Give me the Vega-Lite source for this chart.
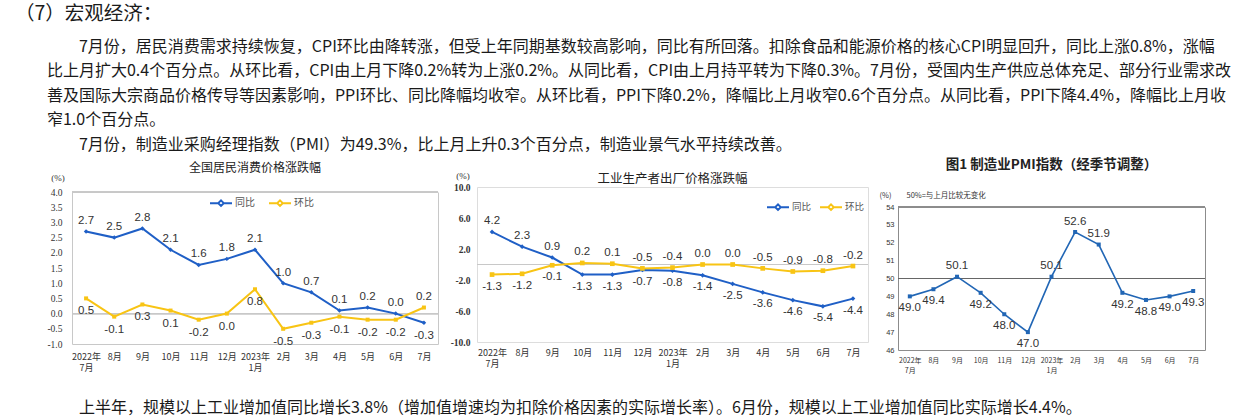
{
  "$schema": "https://vega.github.io/schema/vega-lite/v6.json",
  "background": "white",
  "padding": {"left": 14, "top": 4, "right": 0, "bottom": 0},
  "config": {
    "font": "Noto Sans CJK SC",
    "locale": {"number": {"decimal": ".", "thousands": ",", "grouping": [3], "currency": ["", ""], "minus": "-"}},
    "view": {"stroke": "#c8c8c8"},
    "axis": {"grid": false, "ticks": false, "domain": false, "labelColor": "#333", "titleColor": "#333", "titleFontWeight": "normal", "labelOverlap": false}
  },
  "datasets": {
    "cpi": [
      {"month": "2022年|7月", "同比": 2.7, "环比": 0.5},
      {"month": "8月", "同比": 2.5, "环比": -0.1},
      {"month": "9月", "同比": 2.8, "环比": 0.3},
      {"month": "10月", "同比": 2.1, "环比": 0.1},
      {"month": "11月", "同比": 1.6, "环比": -0.2},
      {"month": "12月", "同比": 1.8, "环比": 0.0},
      {"month": "2023年|1月", "同比": 2.1, "环比": 0.8},
      {"month": "2月", "同比": 1.0, "环比": -0.5},
      {"month": "3月", "同比": 0.7, "环比": -0.3},
      {"month": "4月", "同比": 0.1, "环比": -0.1},
      {"month": "5月", "同比": 0.2, "环比": -0.2},
      {"month": "6月", "同比": 0.0, "环比": -0.2},
      {"month": "7月", "同比": -0.3, "环比": 0.2}
    ],
    "ppi": [
      {"month": "2022年|7月", "同比": 4.2, "环比": -1.3},
      {"month": "8月", "同比": 2.3, "环比": -1.2},
      {"month": "9月", "同比": 0.9, "环比": -0.1},
      {"month": "10月", "同比": -1.3, "环比": 0.2},
      {"month": "11月", "同比": -1.3, "环比": 0.1},
      {"month": "12月", "同比": -0.7, "环比": -0.5},
      {"month": "2023年|1月", "同比": -0.8, "环比": -0.4},
      {"month": "2月", "同比": -1.4, "环比": 0.0},
      {"month": "3月", "同比": -2.5, "环比": 0.0},
      {"month": "4月", "同比": -3.6, "环比": -0.5},
      {"month": "5月", "同比": -4.6, "环比": -0.9},
      {"month": "6月", "同比": -5.4, "环比": -0.8},
      {"month": "7月", "同比": -4.4, "环比": -0.2}
    ],
    "pmi": [
      {"month": "2022年|7月", "PMI": 49.0},
      {"month": "8月", "PMI": 49.4},
      {"month": "9月", "PMI": 50.1},
      {"month": "10月", "PMI": 49.2},
      {"month": "11月", "PMI": 48.0},
      {"month": "12月", "PMI": 47.0},
      {"month": "2023年|1月", "PMI": 50.1},
      {"month": "2月", "PMI": 52.6},
      {"month": "3月", "PMI": 51.9},
      {"month": "4月", "PMI": 49.2},
      {"month": "5月", "PMI": 48.8},
      {"month": "6月", "PMI": 49.0},
      {"month": "7月", "PMI": 49.3}
    ]
  },
  "title": {
    "text": "（7）宏观经济：",
    "subtitle": [
      "⁠　　　　7月份，居民消费需求持续恢复，CPI环比由降转涨，但受上年同期基数较高影响，同比有所回落。扣除食品和能源价格的核心CPI明显回升，同比上涨0.8%，涨幅",
      "⁠　　比上月扩大0.4个百分点。从环比看，CPI由上月下降0.2%转为上涨0.2%。从同比看，CPI由上月持平转为下降0.3%。7月份，受国内生产供应总体充足、部分行业需求改",
      "⁠　　善及国际大宗商品价格传导等因素影响，PPI环比、同比降幅均收窄。从环比看，PPI下降0.2%，降幅比上月收窄0.6个百分点。从同比看，PPI下降4.4%，降幅比上月收",
      "⁠　　窄1.0个百分点。",
      "⁠　　　　7月份，制造业采购经理指数（PMI）为49.3%，比上月上升0.3个百分点，制造业景气水平持续改善。"
    ],
    "anchor": "start",
    "dx": -32,
    "font": "Noto Sans CJK SC",
    "fontSize": 19.5,
    "fontWeight": "normal",
    "color": "#1a1a1a",
    "subtitleFont": "Noto Sans CJK SC",
    "subtitleFontSize": 16,
    "subtitleLineHeight": 24.5,
    "subtitleColor": "#1a1a1a",
    "subtitlePadding": 14,
    "offset": 4
  },
  "vconcat": [
    {
      "spacing": 10,
      "resolve": {"scale": {"color": "independent"}},
      "title": {
        "text": "⁠　　上半年，规模以上工业增加值同比增长3.8%（增加值增速均为扣除价格因素的实际增长率）。6月份，规模以上工业增加值同比实际增长4.4%。",
        "orient": "bottom",
        "anchor": "start",
        "font": "Noto Sans CJK SC",
        "fontSize": 16,
        "fontWeight": "normal",
        "color": "#1a1a1a",
        "offset": 27
      },
      "hconcat": [
        {
          "width": 366,
          "height": 157,
          "data": {"name": "cpi"},
          "view": {"stroke": null},
          "title": {"text": "全国居民消费价格涨跌幅", "fontSize": 12, "fontWeight": "normal", "color": "#222", "offset": -2},
          "resolve": {"axis": {"y": "independent"}},
          "layer": [
            {
              "mark": {"type": "rule", "color": "#c8c8c8", "strokeWidth": 1},
              "encoding": {"y": {"datum": 0, "type": "quantitative", "scale": {"domain": [-1, 4], "range": [157, 5]}, "axis": null}}
            },
            {
              "mark": {"type": "rule", "color": "#c8c8c8", "strokeWidth": 1},
              "encoding": {"y": {"datum": 4, "type": "quantitative", "scale": {"domain": [-1, 4], "range": [157, 5]},
                "axis": {"orient": "right", "labels": false, "ticks": false, "title": null, "domain": true, "domainColor": "#c8c8c8"}}}
            },
            {
              "transform": [{"fold": ["同比", "环比"], "as": ["series", "value"]}],
              "mark": {"type": "line", "strokeWidth": 2},
              "encoding": {
                "x": {"field": "month", "type": "ordinal", "sort": null, "scale": {"type": "point", "padding": 0.5},
                  "axis": {"title": null, "labelAngle": 0, "labelOverlap": false, "labelExpr": "split(datum.label, '|')", "labelFontSize": 9, "labelLineHeight": 11, "labelPadding": 8, "labelColor": "#333", "domain": true, "domainColor": "#c8c8c8"}},
                "y": {"field": "value", "type": "quantitative", "scale": {"domain": [-1, 4], "range": [157, 5]},
                  "axis": {"title": "(%)", "titleAngle": 0, "titleAlign": "center", "titleBaseline": "middle", "titleX": -14.5, "titleY": -10, "titleFont": "Liberation Serif", "titleFontSize": 9, "values": [-1, -0.5, 0, 0.5, 1, 1.5, 2, 2.5, 3, 3.5, 4], "format": ".1f", "labelOverlap": false, "labelFont": "Liberation Serif", "labelFontSize": 9.5, "labelPadding": 10, "domain": true, "domainColor": "#c8c8c8"}},
                "color": {"field": "series", "type": "nominal", "scale": {"domain": ["同比", "环比"], "range": ["#1f5fc6", "#f8c414"]},
                  "legend": {"title": null, "orient": "none", "legendX": 137, "legendY": 4, "direction": "horizontal", "symbolType": "M-1,0L-0.25,0M0.25,0L1,0M-0.25,0L0,-0.25L0.25,0L0,0.25Z", "symbolSize": 484, "symbolStrokeWidth": 2, "labelFontSize": 10, "labelColor": "#555", "columnPadding": 10, "labelOffset": 2}}
              }
            },
            {
              "mark": {"type": "point", "shape": "diamond", "filled": true, "opacity": 1, "size": 20, "color": "#1f5fc6"},
              "encoding": {"x": {"field": "month", "type": "ordinal", "sort": null}, "y": {"field": "同比", "type": "quantitative", "scale": {"domain": [-1, 4], "range": [157, 5]}, "axis": null}}
            },
            {
              "mark": {"type": "point", "shape": "square", "filled": true, "opacity": 1, "size": 16, "color": "#f8c414"},
              "encoding": {"x": {"field": "month", "type": "ordinal", "sort": null}, "y": {"field": "环比", "type": "quantitative", "scale": {"domain": [-1, 4], "range": [157, 5]}, "axis": null}}
            },
            {
              "transform": [{"filter": "datum['同比'] >= datum['环比']"}],
              "mark": {"type": "text", "dy": -10.5, "font": "Liberation Sans", "fontSize": 11.5, "color": "#333"},
              "encoding": {"x": {"field": "month", "type": "ordinal", "sort": null}, "y": {"field": "同比", "type": "quantitative", "scale": {"domain": [-1, 4], "range": [157, 5]}, "axis": null}, "text": {"field": "同比", "type": "quantitative", "format": ".1f"}}
            },
            {
              "transform": [{"filter": "datum['同比'] < datum['环比']"}],
              "mark": {"type": "text", "dy": 13, "font": "Liberation Sans", "fontSize": 11.5, "color": "#333"},
              "encoding": {"x": {"field": "month", "type": "ordinal", "sort": null}, "y": {"field": "同比", "type": "quantitative", "scale": {"domain": [-1, 4], "range": [157, 5]}, "axis": null}, "text": {"field": "同比", "type": "quantitative", "format": ".1f"}}
            },
            {
              "transform": [{"filter": "datum['环比'] > datum['同比']"}],
              "mark": {"type": "text", "dy": -10.5, "font": "Liberation Sans", "fontSize": 11.5, "color": "#333"},
              "encoding": {"x": {"field": "month", "type": "ordinal", "sort": null}, "y": {"field": "环比", "type": "quantitative", "scale": {"domain": [-1, 4], "range": [157, 5]}, "axis": null}, "text": {"field": "环比", "type": "quantitative", "format": ".1f"}}
            },
            {
              "transform": [{"filter": "datum['环比'] <= datum['同比']"}],
              "mark": {"type": "text", "dy": 13, "font": "Liberation Sans", "fontSize": 11.5, "color": "#333"},
              "encoding": {"x": {"field": "month", "type": "ordinal", "sort": null}, "y": {"field": "环比", "type": "quantitative", "scale": {"domain": [-1, 4], "range": [157, 5]}, "axis": null}, "text": {"field": "环比", "type": "quantitative", "format": ".1f"}}
            }
          ]
        },
        {
          "width": 391,
          "height": 155,
          "data": {"name": "ppi"},
          "view": {"stroke": "#dddddd"},
          "title": {"text": "工业生产者出厂价格涨跌幅", "fontSize": 12.5, "fontWeight": "normal", "color": "#222", "offset": -14},
          "resolve": {"axis": {"y": "independent"}},
          "layer": [
            {
              "mark": {"type": "rule", "color": "#c8c8c8", "strokeWidth": 1},
              "encoding": {"y": {"datum": 0, "type": "quantitative", "scale": {"domain": [-10, 10]}, "axis": null}}
            },
            {
              "transform": [{"fold": ["同比", "环比"], "as": ["series", "value"]}],
              "mark": {"type": "line", "strokeWidth": 2},
              "encoding": {
                "x": {"field": "month", "type": "ordinal", "sort": null, "scale": {"type": "point", "padding": 0.5},
                  "axis": {"title": null, "labelAngle": 0, "labelOverlap": false, "labelExpr": "split(datum.label, '|')", "labelFontSize": 9, "labelLineHeight": 11, "labelPadding": 6, "labelColor": "#333"}},
                "y": {"field": "value", "type": "quantitative", "scale": {"domain": [-10, 10]},
                  "axis": {"title": "(%)", "titleAngle": 0, "titleAlign": "center", "titleBaseline": "middle", "titleX": -14.5, "titleY": -12, "titleFont": "Liberation Serif", "titleFontSize": 9, "values": [-10, -6, -2, 2, 6, 10], "format": ".1f", "labelOverlap": false, "labelFont": "Liberation Serif", "labelFontWeight": "bold", "labelFontSize": 9.5, "labelPadding": 7}},
                "color": {"field": "series", "type": "nominal", "scale": {"domain": ["同比", "环比"], "range": ["#1f5fc6", "#f8c414"]},
                  "legend": {"title": null, "orient": "none", "legendX": 289, "legendY": 8, "direction": "horizontal", "symbolType": "M-1,0L-0.25,0M0.25,0L1,0M-0.25,0L0,-0.25L0.25,0L0,0.25Z", "symbolSize": 484, "symbolStrokeWidth": 2, "labelFontSize": 9.5, "labelColor": "#555", "columnPadding": 4, "labelOffset": 2}}
              }
            },
            {
              "mark": {"type": "point", "shape": "diamond", "filled": true, "opacity": 1, "size": 22, "color": "#1f5fc6"},
              "encoding": {"x": {"field": "month", "type": "ordinal", "sort": null}, "y": {"field": "同比", "type": "quantitative", "scale": {"domain": [-10, 10]}, "axis": null}}
            },
            {
              "mark": {"type": "point", "shape": "square", "filled": true, "opacity": 1, "size": 22, "color": "#f8c414"},
              "encoding": {"x": {"field": "month", "type": "ordinal", "sort": null}, "y": {"field": "环比", "type": "quantitative", "scale": {"domain": [-10, 10]}, "axis": null}}
            },
            {
              "transform": [{"filter": "datum['同比'] >= datum['环比']"}],
              "mark": {"type": "text", "dy": -10.5, "font": "Liberation Sans", "fontSize": 11.5, "color": "#333"},
              "encoding": {"x": {"field": "month", "type": "ordinal", "sort": null}, "y": {"field": "同比", "type": "quantitative", "scale": {"domain": [-10, 10]}, "axis": null}, "text": {"field": "同比", "type": "quantitative", "format": ".1f"}}
            },
            {
              "transform": [{"filter": "datum['同比'] < datum['环比']"}],
              "mark": {"type": "text", "dy": 12, "font": "Liberation Sans", "fontSize": 11.5, "color": "#333"},
              "encoding": {"x": {"field": "month", "type": "ordinal", "sort": null}, "y": {"field": "同比", "type": "quantitative", "scale": {"domain": [-10, 10]}, "axis": null}, "text": {"field": "同比", "type": "quantitative", "format": ".1f"}}
            },
            {
              "transform": [{"filter": "datum['环比'] > datum['同比']"}],
              "mark": {"type": "text", "dy": -10.5, "font": "Liberation Sans", "fontSize": 11.5, "color": "#333"},
              "encoding": {"x": {"field": "month", "type": "ordinal", "sort": null}, "y": {"field": "环比", "type": "quantitative", "scale": {"domain": [-10, 10]}, "axis": null}, "text": {"field": "环比", "type": "quantitative", "format": ".1f"}}
            },
            {
              "transform": [{"filter": "datum['环比'] <= datum['同比']"}],
              "mark": {"type": "text", "dy": 12, "font": "Liberation Sans", "fontSize": 11.5, "color": "#333"},
              "encoding": {"x": {"field": "month", "type": "ordinal", "sort": null}, "y": {"field": "环比", "type": "quantitative", "scale": {"domain": [-10, 10]}, "axis": null}, "text": {"field": "环比", "type": "quantitative", "format": ".1f"}}
            }
          ]
        },
        {
          "width": 307,
          "height": 163,
          "data": {"name": "pmi"},
          "view": {"stroke": null},
          "title": {"text": "图1 制造业PMI指数（经季节调整）", "fontSize": 13.5, "fontWeight": "bold", "color": "#222", "offset": 16},
          "resolve": {"axis": {"y": "independent"}},
          "layer": [
            {
              "mark": {"type": "rule", "color": "#666666", "strokeWidth": 1},
              "encoding": {"y": {"datum": 50, "type": "quantitative", "scale": {"domain": [46, 54], "range": [163, 20]}, "axis": null}}
            },
            {
              "mark": {"type": "rule", "color": "#8c8c8c", "strokeWidth": 1},
              "encoding": {"y": {"datum": 54, "type": "quantitative", "scale": {"domain": [46, 54], "range": [163, 20]},
                "axis": {"orient": "right", "labels": false, "ticks": false, "title": null, "domain": true, "domainColor": "#8c8c8c"}}}
            },
            {
              "mark": {"type": "line", "color": "#2166b5", "strokeWidth": 1.6, "point": {"filled": true, "size": 16, "shape": "square", "color": "#2166b5"}},
              "encoding": {
                "x": {"field": "month", "type": "ordinal", "sort": null, "scale": {"type": "point", "padding": 0.5},
                  "axis": {"title": null, "labelAngle": 0, "labelOverlap": false, "labelExpr": "split(datum.label, '|')", "labelFontSize": 7, "labelLineHeight": 10, "labelPadding": 6, "labelColor": "#333", "domain": true, "domainColor": "#8c8c8c"}},
                "y": {"field": "PMI", "type": "quantitative", "scale": {"domain": [46, 54], "range": [163, 20]},
                  "axis": {"title": "(%)　　50%=与上月比较无变化", "titleAngle": 0, "titleAlign": "left", "titleBaseline": "middle", "titleX": -19, "titleY": 8, "titleFontSize": 7.5, "values": [46, 47, 48, 49, 50, 51, 52, 53, 54], "format": "d", "labelOverlap": false, "labelFont": "Liberation Sans", "labelFontSize": 7.5, "labelPadding": 4, "domain": true, "domainColor": "#8c8c8c"}}
              }
            },
            {
              "transform": [{"filter": "datum.PMI >= 50"}],
              "mark": {"type": "text", "dy": -10.5, "font": "Liberation Sans", "fontSize": 11.5, "color": "#333"},
              "encoding": {"x": {"field": "month", "type": "ordinal", "sort": null}, "y": {"field": "PMI", "type": "quantitative", "scale": {"domain": [46, 54], "range": [163, 20]}, "axis": null}, "text": {"field": "PMI", "type": "quantitative", "format": ".1f"}}
            },
            {
              "transform": [{"filter": "datum.PMI < 50"}],
              "mark": {"type": "text", "dy": 12, "font": "Liberation Sans", "fontSize": 11.5, "color": "#333"},
              "encoding": {"x": {"field": "month", "type": "ordinal", "sort": null}, "y": {"field": "PMI", "type": "quantitative", "scale": {"domain": [46, 54], "range": [163, 20]}, "axis": null}, "text": {"field": "PMI", "type": "quantitative", "format": ".1f"}}
            }
          ]
        }
      ]
    }
  ]
}
